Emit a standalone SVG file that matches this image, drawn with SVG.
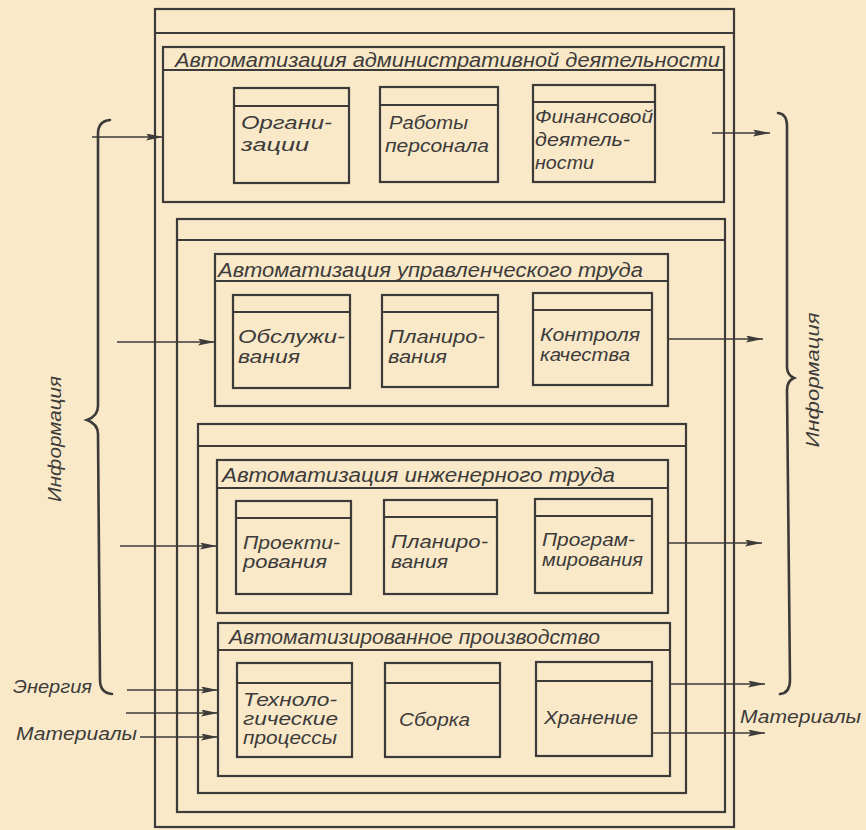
<svg xmlns="http://www.w3.org/2000/svg" width="866" height="830" viewBox="0 0 866 830">
<defs>
<style>
.bg{fill:#f9e9c9}
.frm{fill:none;stroke:#3d3b3a;stroke-width:2.2}
.thin{fill:none;stroke:#3d3b3a;stroke-width:1.6}
.br{fill:none;stroke:#3d3b3a;stroke-width:2.6;stroke-linecap:round}
.t{font-family:"Liberation Sans","DejaVu Sans",sans-serif;font-style:italic;fill:#3d3b3a}
.tt{font-size:20px}
.ts{font-size:19px}
</style>
<marker id="ah" markerUnits="userSpaceOnUse" markerWidth="18" markerHeight="8" refX="17" refY="3.5" orient="auto">
<path d="M0,0 L17,3.5 L0,7 L3,3.5 z" fill="#3d3b3a"/>
</marker>
</defs>
<rect class="bg" x="0" y="0" width="866" height="830"/>

<g id="outer-frame">
<rect class="frm" x="155" y="9" width="579" height="818"/>
<line class="frm" x1="155" y1="33" x2="734" y2="33"/>
</g>

<g id="admin">
<rect class="frm" x="163" y="47" width="561" height="155"/>
<line class="frm" x1="163" y1="70" x2="724" y2="70"/>
<text class="t tt" x="175" y="67" textLength="545" lengthAdjust="spacingAndGlyphs">Автоматизация административной деятельности</text>
</g>
<g id="admin-org">
<rect class="frm" x="234" y="88" width="115" height="95"/>
<line class="frm" x1="234" y1="106" x2="349" y2="106"/>
<text class="t ts" x="241" y="129" textLength="91" lengthAdjust="spacingAndGlyphs">Органи-</text>
<text class="t ts" x="241" y="151" textLength="68" lengthAdjust="spacingAndGlyphs">зации</text>
</g>
<g id="admin-staff">
<rect class="frm" x="380" y="87" width="118" height="95"/>
<line class="frm" x1="380" y1="105" x2="498" y2="105"/>
<text class="t ts" x="389" y="129" textLength="79" lengthAdjust="spacingAndGlyphs">Работы</text>
<text class="t ts" x="385" y="152" textLength="104" lengthAdjust="spacingAndGlyphs">персонала</text>
</g>
<g id="admin-fin">
<rect class="frm" x="533" y="85" width="122" height="97"/>
<line class="frm" x1="533" y1="102" x2="655" y2="102"/>
<text class="t ts" x="535" y="123" textLength="118" lengthAdjust="spacingAndGlyphs">Финансовой</text>
<text class="t ts" x="535" y="146" textLength="95" lengthAdjust="spacingAndGlyphs">деятель-</text>
<text class="t ts" x="535" y="169" textLength="59" lengthAdjust="spacingAndGlyphs">ности</text>
</g>

<g id="level1-frame">
<rect class="frm" x="177" y="219" width="548" height="593"/>
<line class="frm" x1="177" y1="240" x2="725" y2="240"/>
</g>

<g id="mgmt">
<rect class="frm" x="215" y="254" width="453" height="152"/>
<line class="frm" x1="215" y1="281" x2="668" y2="281"/>
<text class="t tt" x="218" y="277" textLength="425" lengthAdjust="spacingAndGlyphs">Автоматизация управленческого труда</text>
</g>
<g id="mgmt-service">
<rect class="frm" x="233" y="295" width="117" height="93"/>
<line class="frm" x1="233" y1="312" x2="350" y2="312"/>
<text class="t ts" x="238" y="343" textLength="107" lengthAdjust="spacingAndGlyphs">Обслужи-</text>
<text class="t ts" x="238" y="363" textLength="62" lengthAdjust="spacingAndGlyphs">вания</text>
</g>
<g id="mgmt-plan">
<rect class="frm" x="382" y="295" width="116" height="92"/>
<line class="frm" x1="382" y1="312" x2="498" y2="312"/>
<text class="t ts" x="388" y="343" textLength="97" lengthAdjust="spacingAndGlyphs">Планиро-</text>
<text class="t ts" x="388" y="363" textLength="59" lengthAdjust="spacingAndGlyphs">вания</text>
</g>
<g id="mgmt-quality">
<rect class="frm" x="533" y="293" width="119" height="92"/>
<line class="frm" x1="533" y1="310" x2="652" y2="310"/>
<text class="t ts" x="540" y="341" textLength="100" lengthAdjust="spacingAndGlyphs">Контроля</text>
<text class="t ts" x="540" y="361" textLength="90" lengthAdjust="spacingAndGlyphs">качества</text>
</g>

<g id="level2-frame">
<rect class="frm" x="198" y="424" width="488" height="369"/>
<line class="frm" x1="198" y1="446" x2="686" y2="446"/>
</g>

<g id="eng">
<rect class="frm" x="217" y="460" width="451" height="153"/>
<line class="frm" x1="217" y1="488" x2="668" y2="488"/>
<text class="t tt" x="222" y="482" textLength="393" lengthAdjust="spacingAndGlyphs">Автоматизация инженерного труда</text>
</g>
<g id="eng-design">
<rect class="frm" x="236" y="501" width="115" height="93"/>
<line class="frm" x1="236" y1="518" x2="351" y2="518"/>
<text class="t ts" x="243" y="549" textLength="97" lengthAdjust="spacingAndGlyphs">Проекти-</text>
<text class="t ts" x="243" y="568" textLength="84" lengthAdjust="spacingAndGlyphs">рования</text>
</g>
<g id="eng-plan">
<rect class="frm" x="384" y="500" width="113" height="94"/>
<line class="frm" x1="384" y1="517" x2="497" y2="517"/>
<text class="t ts" x="391" y="548" textLength="97" lengthAdjust="spacingAndGlyphs">Планиро-</text>
<text class="t ts" x="391" y="568" textLength="57" lengthAdjust="spacingAndGlyphs">вания</text>
</g>
<g id="eng-prog">
<rect class="frm" x="535" y="499" width="117" height="94"/>
<line class="frm" x1="535" y1="516" x2="652" y2="516"/>
<text class="t ts" x="542" y="546" textLength="93" lengthAdjust="spacingAndGlyphs">Програм-</text>
<text class="t ts" x="542" y="566" textLength="101" lengthAdjust="spacingAndGlyphs">мирования</text>
</g>

<g id="prod">
<rect class="frm" x="218" y="623" width="452" height="153"/>
<line class="frm" x1="218" y1="650" x2="670" y2="650"/>
<text class="t tt" x="229" y="644" textLength="371" lengthAdjust="spacingAndGlyphs">Автоматизированное производство</text>
</g>
<g id="prod-tech">
<rect class="frm" x="237" y="663" width="115" height="94"/>
<line class="frm" x1="237" y1="683" x2="352" y2="683"/>
<text class="t ts" x="243" y="706" textLength="94" lengthAdjust="spacingAndGlyphs">Техноло-</text>
<text class="t ts" x="243" y="725" textLength="95" lengthAdjust="spacingAndGlyphs">гические</text>
<text class="t ts" x="243" y="744" textLength="94" lengthAdjust="spacingAndGlyphs">процессы</text>
</g>
<g id="prod-assembly">
<rect class="frm" x="385" y="663" width="115" height="94"/>
<line class="frm" x1="385" y1="683" x2="500" y2="683"/>
<text class="t ts" x="399" y="726" textLength="71" lengthAdjust="spacingAndGlyphs">Сборка</text>
</g>
<g id="prod-storage">
<rect class="frm" x="536" y="662" width="116" height="94"/>
<line class="frm" x1="536" y1="681" x2="652" y2="681"/>
<text class="t ts" x="544" y="724" textLength="94" lengthAdjust="spacingAndGlyphs">Хранение</text>
</g>

<g id="labels">
<text class="t ts" transform="translate(61,439) rotate(-90)" text-anchor="middle" textLength="126" lengthAdjust="spacingAndGlyphs">Информация</text>
<text class="t ts" transform="translate(819,380) rotate(-90)" text-anchor="middle" textLength="135" lengthAdjust="spacingAndGlyphs">Информация</text>
<text class="t ts" x="13" y="693" textLength="79" lengthAdjust="spacingAndGlyphs">Энергия</text>
<text class="t ts" x="16" y="740" textLength="121" lengthAdjust="spacingAndGlyphs">Материалы</text>
<text class="t ts" x="740" y="723" textLength="121" lengthAdjust="spacingAndGlyphs">Материалы</text>
</g>

<g id="connectors">
<path class="br" d="M110,120 Q98,121 98,134 L98,406 Q98,416 87,420 Q98,424 98,434 L100,680 Q100,693 112,694"/>
<path class="br" d="M778,113 Q787,114 787,126 L787,367 Q787,375 794,378 Q787,381 787,390 L790,680 Q790,693 780,694"/>
<line class="thin" x1="92" y1="137" x2="163" y2="137" marker-end="url(#ah)"/>
<line class="thin" x1="117" y1="342" x2="215" y2="342" marker-end="url(#ah)"/>
<line class="thin" x1="120" y1="546" x2="217" y2="546" marker-end="url(#ah)"/>
<line class="thin" x1="127" y1="690" x2="218" y2="690" marker-end="url(#ah)"/>
<line class="thin" x1="126" y1="713" x2="218" y2="713" marker-end="url(#ah)"/>
<line class="thin" x1="140" y1="737" x2="218" y2="737" marker-end="url(#ah)"/>
<line class="thin" x1="712" y1="133" x2="770" y2="133" marker-end="url(#ah)"/>
<line class="thin" x1="668" y1="339" x2="763" y2="339" marker-end="url(#ah)"/>
<line class="thin" x1="668" y1="543" x2="762" y2="543" marker-end="url(#ah)"/>
<line class="thin" x1="670" y1="684" x2="765" y2="684" marker-end="url(#ah)"/>
<line class="thin" x1="652" y1="733" x2="765" y2="733" marker-end="url(#ah)"/>
</g>
</svg>
